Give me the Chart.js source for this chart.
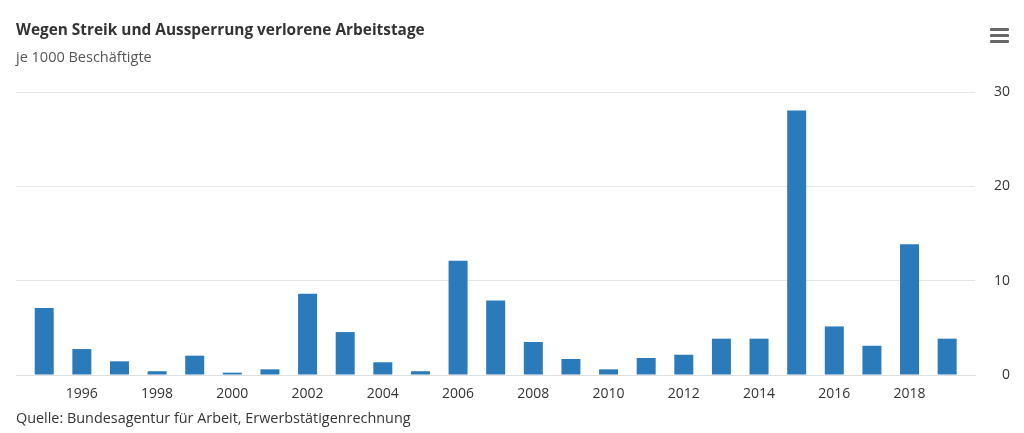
<!DOCTYPE html>
<html>
<head>
<meta charset="utf-8">
<script src="https://cdn.jsdelivr.net/npm/chart.js@4"></script>
<style>
  html, body { margin: 0; padding: 0; background: #fff; }
  #wrap { position: relative; width: 1024px; height: 433px; overflow: hidden; font-family: "Open Sans", sans-serif; }
  #c { position: absolute; left: 0; top: 0; }
  .title { position: absolute; left: 16px; top: 19px; font-size: 15.4px; font-weight: 700; color: #333; white-space: nowrap; }
  .subtitle { position: absolute; left: 16px; top: 47px; font-size: 14.5px; color: #555; white-space: nowrap; }
  .source { position: absolute; left: 16px; top: 408px; font-size: 14.4px; color: #333; white-space: nowrap; }
  .menu { position: absolute; left: 990px; top: 28px; width: 19px; }
  .menu div { height: 3px; background: #666; margin-bottom: 3px; border-radius: 1px; }
</style>
</head>
<body>
<div id="wrap">
  <canvas id="c" width="1024" height="433"></canvas>
  <div class="title">Wegen Streik und Aussperrung verlorene Arbeitstage</div>
  <div class="subtitle">je 1000 Beschäftigte</div>
  <div class="source">Quelle: Bundesagentur für Arbeit, Erwerbstätigenrechnung</div>
  <div class="menu"><div></div><div></div><div></div></div>
</div>
<script>
const years = [1995,1996,1997,1998,1999,2000,2001,2002,2003,2004,2005,2006,2007,2008,2009,2010,2011,2012,2013,2014,2015,2016,2017,2018,2019];
const lostDays = [7.1,2.75,1.45,0.4,2.05,0.25,0.6,8.6,4.55,1.35,0.4,12.1,7.9,3.5,1.7,0.6,1.8,2.15,3.85,3.85,28.05,5.15,3.1,13.85,3.85];
const xTickLabels = [1996,1998,2000,2002,2004,2006,2008,2010,2012,2014,2016,2018];
const yTickValues = [0,10,20,30];

const labelFont = { family: "Open Sans", size: 14 };

new Chart(document.getElementById('c'), {
  type: 'bar',
  data: {
    datasets: [{
      data: years.map((y, i) => ({ x: y, y: lostDays[i] })),
      backgroundColor: '#2b7bba',
      borderWidth: 0,
      barPercentage: 1,
      categoryPercentage: 0.505
    }]
  },
  options: {
    responsive: false,
    animation: false,
    devicePixelRatio: 1,
    layout: { padding: { top: 92, left: 16, right: 14, bottom: 28 } },
    plugins: { legend: { display: false }, tooltip: { enabled: false }, title: { display: false } },
    scales: {
      x: {
        type: 'linear',
        offset: false,
        min: 1994.25,
        max: 2019.74,
        grid: { display: false, drawTicks: false },
        border: { display: true, color: '#dfdfdf', width: 1 },
        afterBuildTicks: s => { s.ticks = xTickLabels.map(v => ({ value: v })); },
        afterFit: s => { s.height = 30; },
        ticks: { padding: 11, color: '#333', font: labelFont, callback: v => String(v), maxRotation: 0, autoSkip: false }
      },
      y: {
        position: 'right',
        min: 0,
        max: 30,
        grid: { color: '#e6e6e6', drawTicks: false },
        border: { display: false },
        afterBuildTicks: s => { s.ticks = yTickValues.map(v => ({ value: v })); },
        afterFit: s => { s.width = 35; },
        ticks: { padding: 21, crossAlign: 'far', color: '#333', font: labelFont }
      }
    }
  }
});
</script>
</body>
</html>
